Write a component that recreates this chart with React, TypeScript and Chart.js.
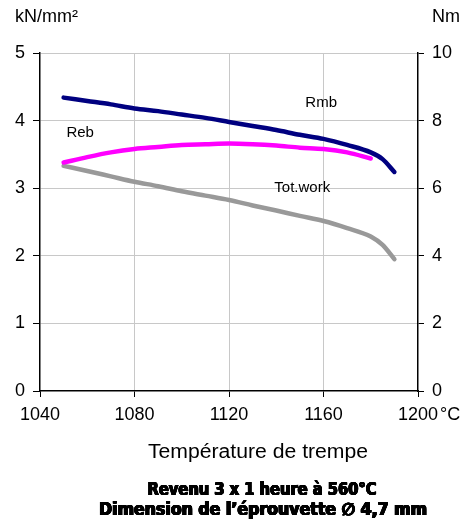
import React, { useEffect, useRef } from "react";
import { Chart, registerables } from "chart.js";

Chart.register(...registerables);

// Quenching temperature (°C)
const temps = [1050, 1060, 1070, 1080, 1090, 1100, 1110, 1120, 1130, 1140, 1150, 1160, 1170, 1180, 1185, 1190];
// Rmb (kN/mm²)
const rmb = [4.34, 4.29, 4.24, 4.18, 4.14, 4.09, 4.04, 3.98, 3.92, 3.86, 3.79, 3.73, 3.64, 3.53, 3.43, 3.24];
// Reb (kN/mm²)
const reb = [3.38, 3.46, 3.53, 3.58, 3.61, 3.64, 3.65, 3.66, 3.65, 3.63, 3.6, 3.58, 3.53, 3.44, null, null];
// Total work (Nm)
const totWork = [6.66, 6.51, 6.35, 6.19, 6.06, 5.91, 5.78, 5.65, 5.49, 5.34, 5.18, 5.03, 4.82, 4.57, 4.32, 3.9];

const xMin = 1040;
const xMax = 1200;
const xStep = 40;
const leftMax = 5;
const rightMax = 10;

const leftUnit = "kN/mm²";
const rightUnit = "Nm";
const xUnit = "°C";
const xTitle = "Température de trempe";
const footer1 = "Revenu 3 x 1 heure à 560°C";
const footer2 = "Dimension de l’éprouvette ∅ 4,7 mm";

const seriesLabels = [
  { text: "Rmb", x: 1159, y: 4.26 },
  { text: "Reb", x: 1057, y: 3.82 },
  { text: "Tot.work", x: 1151, y: 3.0 },
];

const FONT = "'Liberation Sans', Arial, Helvetica, sans-serif";
const BOLD_FONT = "'Liberation Sans Narrow', 'DejaVu Sans Condensed', 'Liberation Sans', sans-serif";

export default function App() {
  const ref = useRef<HTMLCanvasElement>(null);

  useEffect(() => {
    document.body.style.margin = "0";
    const canvas = ref.current!;
    const ctx = canvas.getContext("2d")!;

    const textPlugin = {
      id: "extraTexts",
      afterDraw(chart: any) {
        const c = chart.ctx as CanvasRenderingContext2D;
        const xs = chart.scales.x;
        const ys = chart.scales.y;
        const area = chart.chartArea;
        c.save();
        c.fillStyle = "#000";
        c.textBaseline = "middle";

        // unit labels
        c.font = `18px ${FONT}`;
        c.textAlign = "left";
        c.fillText(leftUnit, 15, area.top - 36);
        c.fillText(rightUnit, area.right + 14, area.top - 36);

        // °C after last x tick
        const xLast = xs.getPixelForValue(xMax);
        const wLast = c.measureText(String(xMax)).width;
        c.fillText(xUnit, xLast + wLast / 2 + 2, area.bottom + 24);

        // series labels
        c.font = `15px ${FONT}`;
        c.textAlign = "center";
        for (const l of seriesLabels) {
          c.fillText(l.text, xs.getPixelForValue(l.x), ys.getPixelForValue(l.y));
        }

        c.textBaseline = "alphabetic";
        const drawFit = (text: string, font: string, cx: number, baseline: number, width: number, heavy: boolean) => {
          c.font = font;
          const w = c.measureText(text).width;
          c.save();
          c.translate(cx, baseline);
          c.scale(width / w, 1);
          c.textAlign = "center";
          if (heavy) {
            for (const dx of [-0.6, -0.3, 0, 0.3, 0.6]) {
              c.fillText(text, dx, 0);
              c.fillText(text, dx, -0.4);
            }
          } else {
            c.fillText(text, 0, 0);
          }
          c.restore();
        };
        // axis title
        drawFit(xTitle, `20px ${FONT}`, 258, 458, 220, false);
        // bold footer lines
        drawFit(footer1, `bold 17px ${BOLD_FONT}`, 262, 495, 229, true);
        drawFit(footer2, `bold 17px ${BOLD_FONT}`, 263, 515, 328, true);
        c.restore();
      },
    };

    const toPts = (vals: (number | null)[]) =>
      temps.map((t, i) => ({ x: t, y: vals[i] })).filter((p) => p.y !== null);

    const gridGray = "#c8c8c8";

    const chart = new Chart(ctx, {
      type: "line",
      data: {
        datasets: [
          {
            label: "Rmb",
            data: toPts(rmb) as any,
            borderColor: "#000080",
            borderWidth: 4.5,
            pointRadius: 0,
            yAxisID: "y",
            cubicInterpolationMode: "monotone",
            borderCapStyle: "round",
          },
          {
            label: "Reb",
            data: toPts(reb) as any,
            borderColor: "#ff00ff",
            borderWidth: 4.5,
            pointRadius: 0,
            yAxisID: "y",
            cubicInterpolationMode: "monotone",
            borderCapStyle: "round",
          },
          {
            label: "Tot.work",
            data: toPts(totWork) as any,
            borderColor: "#999999",
            borderWidth: 4.5,
            pointRadius: 0,
            yAxisID: "y2",
            cubicInterpolationMode: "monotone",
            borderCapStyle: "round",
          },
        ],
      },
      options: {
        responsive: false,
        animation: false,
        layout: { padding: { top: 53, left: 0, right: 0, bottom: 0 } },
        plugins: { legend: { display: false }, tooltip: { enabled: false } },
        scales: {
          x: {
            type: "linear",
            min: xMin,
            max: xMax,
            ticks: {
              stepSize: xStep,
              color: "#000",
              font: { size: 18, family: FONT },
              padding: 7,
              maxRotation: 0,
              callback: (v: any) => String(v),
            },
            grid: {
              color: (c: any) =>
                c.tick && (c.tick.value === xMin || c.tick.value === xMax) ? "rgba(0,0,0,0)" : gridGray,
              tickColor: "#000",
              tickLength: 6,
            },
            border: { color: "#000", width: 1.5 },
            afterFit: (s: any) => {
              s.height = 137;
            },
          },
          y: {
            position: "left",
            min: 0,
            max: leftMax,
            ticks: {
              stepSize: 1,
              color: "#000",
              font: { size: 18, family: FONT },
              padding: 8,
              callback: (v: any) => String(v),
            },
            grid: {
              color: (c: any) => (c.tick && c.tick.value === 0 ? "rgba(0,0,0,0)" : gridGray),
              tickColor: "#000",
              tickLength: 7,
            },
            border: { color: "#000", width: 1.5 },
            afterFit: (s: any) => {
              s.width = 40;
            },
          },
          y2: {
            position: "right",
            min: 0,
            max: rightMax,
            ticks: {
              stepSize: 2,
              color: "#000",
              font: { size: 18, family: FONT },
              padding: 8,
              callback: (v: any) => String(v),
            },
            grid: { drawOnChartArea: false, tickColor: "#000", tickLength: 6 },
            border: { color: "#000", width: 1.5 },
            afterFit: (s: any) => {
              s.width = 44;
            },
          },
        },
      } as any,
      plugins: [textPlugin],
    });

    return () => chart.destroy();
  }, []);

  return <canvas ref={ref} width={462} height={528} style={{ display: "block" }} />;
}
